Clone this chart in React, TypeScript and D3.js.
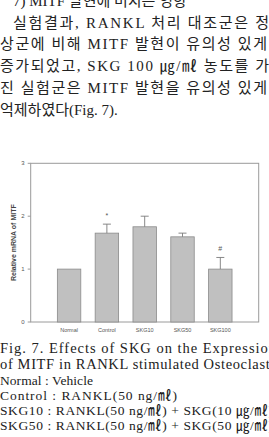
import * as d3 from "d3";

// body text above the figure
const bodyLines = [
  "7) MITF 발현에 미치는 영향",
  "실험결과, RANKL 처리 대조군은 정",
  "상군에 비해 MITF 발현이 유의성 있게",
  "증가되었고, SKG 100 ㎍/㎖ 농도를 가",
  "진 실험군은 MITF 발현을 유의성 있게",
  "억제하였다(Fig. 7).",
];

const captionLines = [
  "Fig. 7. Effects of SKG on the Expression",
  "of MITF in RANKL stimulated Osteoclasts",
  "Normal : Vehicle",
  "Control : RANKL(50 ng/㎖)",
  "SKG10 : RANKL(50 ng/㎖) + SKG(10 ㎍/㎖)",
  "SKG50 : RANKL(50 ng/㎖) + SKG(50 ㎍/㎖)",
];

const categories = ["Normal", "Control", "SKG10", "SKG50", "SKG100"];
const means = [1.0, 1.68, 1.8, 1.61, 1.0];
const errors = [0, 0.17, 0.2, 0.07, 0.22];
const marks = ["", "*", "", "", "#"];
const yTicks = [0, 1, 2, 3];
const yLabel = "Relative mRNA of MITF";

const W = 269;
const H = 437;
const plot = { left: 30.7, right: 258.7, top: 163.3, bottom: 322 };

// x start, justified width (0 = natural), baseline
const bodyLayout = [
  { x: 13, w: 0, y: 6 },
  { x: 13, w: 256, y: 27.5 },
  { x: 0, w: 267, y: 49.4 },
  { x: 0, w: 269, y: 71.3 },
  { x: 0, w: 267, y: 93.2 },
  { x: 0, w: 0, y: 115.1 },
];
const captionLayout = [
  { w: 276, y: 353, size: 14.5 },
  { w: 276, y: 369, size: 14.5 },
  { w: 93, y: 385, size: 13.5 },
  { w: 177, y: 400, size: 13.5 },
  { w: 273, y: 415, size: 13.5 },
  { w: 273, y: 430, size: 13.5 },
];

const serif = "'Liberation Serif', 'Noto Sans CJK KR', serif";
const sans = "Arial, 'Liberation Sans', sans-serif";

export default function App() {
  const x = d3
    .scaleBand<string>()
    .domain(categories)
    .range([plot.left, plot.right])
    .paddingInner(0.38)
    .paddingOuter(0.705);
  const y = d3.scaleLinear().domain([0, 3]).range([plot.bottom, plot.top]);
  const bw = x.bandwidth();

  return (
    <svg
      width={W}
      height={H}
      style={{ position: "absolute", left: 0, top: 0, background: "#fff" }}
    >
      {bodyLines.map((t, i) => {
        const l = bodyLayout[i];
        return (
          <text
            key={i}
            x={l.x}
            y={l.y}
            fontFamily={serif}
            fontSize={15}
            fill="#222"
            {...(l.w ? { textLength: l.w, lengthAdjust: "spacing" } : {})}
          >
            {t}
          </text>
        );
      })}

      {/* frame */}
      <rect
        x={plot.left}
        y={plot.top}
        width={plot.right - plot.left}
        height={plot.bottom - plot.top}
        fill="none"
        stroke="#9a9a9a"
        strokeWidth={1}
      />
      {yTicks.map((t) => (
        <g key={t}>
          <line
            x1={plot.left - 3}
            x2={plot.left}
            y1={y(t)}
            y2={y(t)}
            stroke="#9a9a9a"
          />
          <text
            x={plot.left - 6}
            y={y(t)}
            dy="0.35em"
            textAnchor="end"
            fontFamily={sans}
            fontSize={6}
            fill="#555"
          >
            {t}
          </text>
        </g>
      ))}
      <text
        transform={`translate(14,${(plot.top + plot.bottom) / 2}) rotate(-90)`}
        textAnchor="middle"
        dy="0.35em"
        fontFamily={sans}
        fontWeight="bold"
        fontSize={7}
        fill="#444"
      >
        {yLabel}
      </text>

      {categories.map((c, i) => {
        const x0 = x(c)!;
        const cx = x0 + bw / 2;
        const top = y(means[i]);
        const errTop = y(means[i] + errors[i]);
        return (
          <g key={c}>
            <rect
              x={x0}
              y={top}
              width={bw}
              height={plot.bottom - top}
              fill="#c0c0c0"
              stroke="#8a8a8a"
              strokeWidth={0.8}
            />
            {errors[i] > 0 && (
              <g stroke="#7a7a7a" strokeWidth={0.9}>
                <line x1={cx} x2={cx} y1={top} y2={errTop} />
                <line x1={cx - 4} x2={cx + 4} y1={errTop} y2={errTop} />
              </g>
            )}
            {marks[i] && (
              <text
                x={cx}
                y={errTop - 6}
                textAnchor="middle"
                fontFamily={sans}
                fontSize={7}
                fill="#555"
              >
                {marks[i]}
              </text>
            )}
            <text
              x={cx}
              y={plot.bottom + 10}
              textAnchor="middle"
              fontFamily={sans}
              fontSize={5.5}
              fill="#555"
            >
              {c}
            </text>
          </g>
        );
      })}

      {captionLines.map((t, i) => {
        const l = captionLayout[i];
        return (
          <text
            key={i}
            x={0}
            y={l.y}
            fontFamily={serif}
            fontSize={l.size}
            fill="#222"
            textLength={l.w}
            lengthAdjust="spacing"
          >
            {t}
          </text>
        );
      })}
    </svg>
  );
}
